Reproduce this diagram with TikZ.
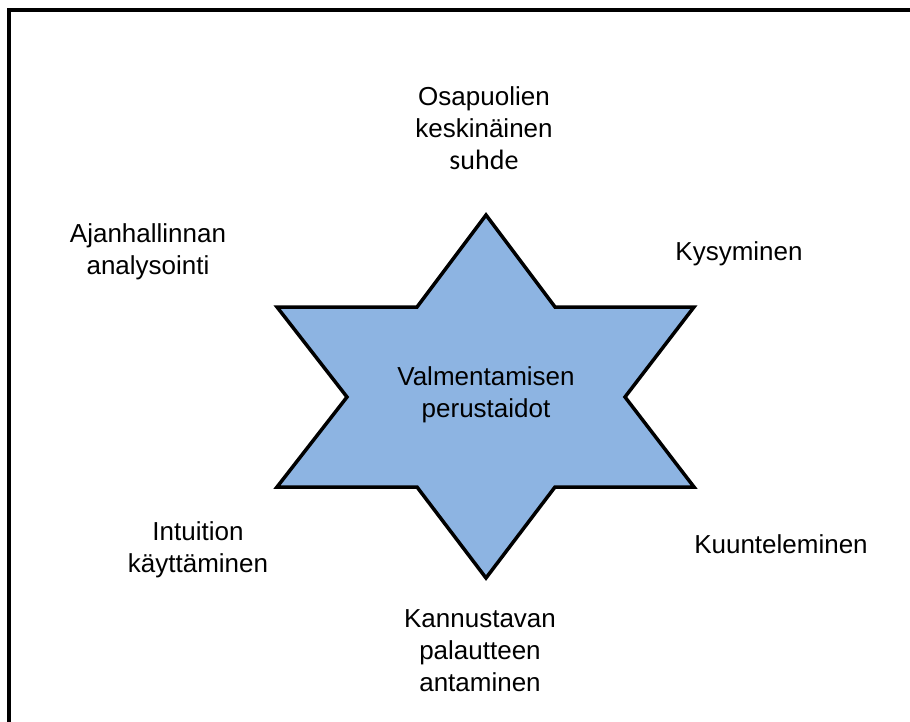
\documentclass[tikz,border=0pt]{standalone}
\usepackage{fontspec}
\setmainfont{Liberation Sans}
\newfontfamily\carlito{Carlito}
\definecolor{starblue}{RGB}{141,180,226}
\begin{document}
\begin{tikzpicture}[x=1pt,y=-1pt,
  label text/.style={align=center, inner sep=0pt,
    font=\fontsize{26}{32}\selectfont},
  frame line/.style={line width=4pt, line cap=butt},
  star outline/.style={draw=black, fill=starblue, line width=3.5pt, line join=miter}]
  \useasboundingbox (0,0) rectangle (910,722);
  % frame: only the top and left edges fall inside the page
  \draw[frame line] (8.5,740) -- (8.5,10.5) -- (930,10.5);
  % six-pointed star
  \draw[star outline]
    (486,215) -- (555,307) -- (694,307) -- (625,397) -- (694,487)
    -- (555,487) -- (486,578) -- (417,487) -- (277,487) -- (347,397)
    -- (277,307) -- (417,307) -- cycle;
  \node[label text] (center) at (486,395) {Valmentamisen\\perustaidot};
  \node[label text] (top) at (484,128) {Osapuolien\\keskinäinen\\{\carlito\fontsize{28}{32}\selectfont suhde}};
  \node[label text] (ul) at (148,252) {Ajanhallinnan\\analysointi};
  \node[label text] (ur) at (739,254) {Kysyminen};
  \node[label text] (ll) at (198,550) {Intuition\\käyttäminen};
  \node[label text] (lr) at (781,544) {Kuunteleminen};
  \node[label text] (bot) at (480,651) {Kannustavan\\palautteen\\antaminen};
\end{tikzpicture}
\end{document}
